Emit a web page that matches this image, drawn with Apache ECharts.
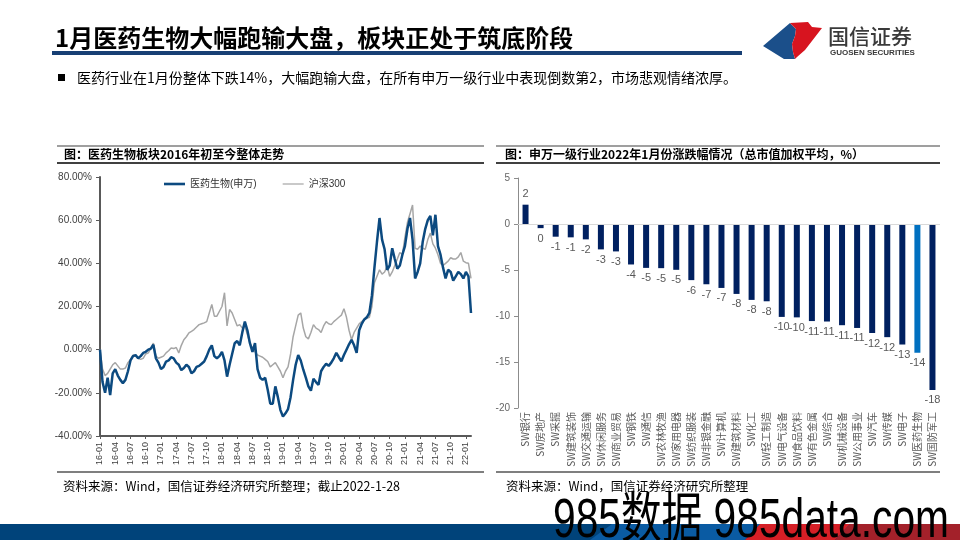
<!DOCTYPE html>
<html><head><meta charset="utf-8">
<script src="https://cdn.jsdelivr.net/npm/echarts/dist/echarts.min.js"></script>
<style>html,body{margin:0;padding:0;background:#fff}#c{width:960px;height:540px}</style>
</head><body><div id="c"></div>
<script>
const FONT = '"Liberation Sans", Arial, "Noto Sans CJK SC", sans-serif';
const CJK = '"Noto Sans CJK SC", "Liberation Sans", sans-serif';

// ---------- left chart: cumulative return since 2016-01 (%), half-month points ----------
const pharmaName = '医药生物(申万)';
const hs300Name = '沪深300';
const pharma = [
 0, -15, -20, -13, -21, -11, -9, -12, -14, -15.5,
 -14, -10, -5, -3, -2.5, -4, -3, -1.5, -1, 0,
 0.5, 2.3, -4, -6, -9, -8, -5.5, -5, -3.5, -4,
 -6, -7, -9.5, -8.5, -7, -8, -11, -10, -8, -7.5,
 -6.5, -5.5, -3, 0, 2, -3, -4, -3, -1, -5,
 -12.5, -7, -2, 3, 4, 2, 8, 13, 9, 3,
 -1, 3, -9, -13, -14, -13, -18.6, -25, -25, -17,
 -22, -28, -31, -29.5, -27.5, -22, -14, -7, -2.5, -5,
 -9.3, -13, -17, -19, -13.5, -15, -16.3, -10, -8, -6.5,
 -7.5, -6, -4, -1.5, -3.5, -5.4, -2.5, 0, 2.5, 4.6,
 2, -1.5, 9, 12, 14, 15, 17, 25, 38, 50,
 61, 51, 46.5, 37, 39, 47, 42, 37.5, 39, 44,
 48, 56, 61, 51, 33, 36, 40, 50, 56, 60,
 62, 53, 62.5, 48, 44, 38, 33, 37, 36, 32,
 34, 36, 35, 33, 36, 34, 17
];
const hs300 = [
 0, -9, -12, -11, -9, -7, -6, -7.5, -9, -9,
 -8.5, -6, -4.5, -2.5, -3, -4, -4.5, -4, -2, -1.5,
 0.5, 3, -3, -4, -3.5, -3, -1.5, -0.5, 0.8, 0.5,
 1, -1.5, 2, 4.6, 6, 7.8, 8.5, 9.3, 10.5, 11.6,
 12, 12.4, 13, 17, 21, 15.5, 15.5, 17.8, 20, 26.4,
 11, 18.6, 17, 14, 11, 11.6, 10, 11, 7, 3,
 1, -1, -2.5, -3, -3.5, -4.5, -5.5, -8, -7, -6,
 -8, -10, -13, -10, -8, -2, 6, 11, 16, 17,
 10, 6, 5, 8, 11.6, 10, 9.3, 8, 11, 13,
 12, 11.6, 13, 14, 15, 16, 19, 15, 9, 4.6,
 8, 10, 12, 13, 14, 14.5, 15, 20, 31, 34,
 37, 35, 36, 38.8, 34, 36, 39, 42, 45, 44,
 52, 59, 63, 67, 47, 46.5, 48, 47, 46.5, 51,
 54, 49, 47, 44, 40, 39, 40, 41, 42.6, 42,
 42, 43, 45, 41, 40.3, 40, 33
];
// date categories (two per month, 2016-01 .. 2022-01-28)
const dateCats = [];
for (let y = 16; y <= 22; y++) {
  for (let m = 1; m <= 12; m++) {
    if (y === 22 && m > 1) break;
    const mm = (m < 10 ? '0' : '') + m;
    dateCats.push(y + '-' + mm);
    dateCats.push(y + '-' + mm + '-16');
  }
}
dateCats.push('22-01-28');

// ---------- right chart: SW level-1 industries, Jan 2022 change (%) ----------
const industries = ['SW银行','SW房地产','SW采掘','SW建筑装饰','SW交通运输','SW休闲服务','SW商业贸易','SW钢铁','SW通信','SW农林牧渔','SW家用电器','SW纺织服装','SW非银金融','SW计算机','SW建筑材料','SW化工','SW轻工制造','SW电气设备','SW食品饮料','SW有色金属','SW综合','SW机械设备','SW公用事业','SW汽车','SW传媒','SW电子','SW医药生物','SW国防军工'];
const changes = [2.1, -0.45, -1.38, -1.45, -1.67, -2.76, -2.98, -4.4, -4.77, -4.8, -4.98, -6.1, -6.55, -6.95, -7.6, -8.25, -8.4, -10.1, -10.15, -10.55, -10.6, -11.0, -11.3, -11.85, -12.3, -13.1, -14.0, -18.04];
const highlight = 'SW医药生物';

// ---------- slide texts ----------
const slideTitle = '1月医药生物大幅跑输大盘，板块正处于筑底阶段';
const bulletText = '医药行业在1月份整体下跌14%，大幅跑输大盘，在所有申万一级行业中表现倒数第2，市场悲观情绪浓厚。';
const leftTitle = '图：医药生物板块2016年初至今整体走势';
const rightTitle = '图：申万一级行业2022年1月份涨跌幅情况（总市值加权平均，%）';
const leftSource = '资料来源：Wind，国信证券经济研究所整理；截止2022-1-28';
const rightSource = '资料来源：Wind，国信证券经济研究所整理';
const watermark = '985数据 985data.com';

function txt(x, y, text, font, fill, align, z) {
  return {type:'text', x:x, y:y, z:z||10, silent:true,
    style:{text:text, font:font, fill:fill||'#000', align:align||'left', verticalAlign:'middle',
      textAlign:align||'left', textVerticalAlign:'middle'}};
}
function hline(x1, x2, y, color, w) {
  return {type:'line', silent:true, shape:{x1:x1, y1:y, x2:x2, y2:y}, style:{stroke:color, lineWidth:w}};
}

const graphic = [
  txt(55, 38, slideTitle, 'bold 24px ' + CJK, '#000'),
  {type:'rect', silent:true, shape:{x:52, y:51, width:690, height:4}, style:{fill:'#173F74'}},
  {type:'polygon', silent:true, shape:{points:[[763,46],[790,23],[796,29],[795,36],[792,44],[793,52],[795,59],[784,59]]}, style:{fill:'#1B4F8A'}},
  {type:'polygon', silent:true, shape:{points:[[790,23],[808,22],[812,27],[822,28],[805,50],[797,57],[795,59],[793,52],[792,44],[795,36],[796,29]]}, style:{fill:'#D7141F'}},
  txt(828, 36, '国信证券', '500 21px ' + CJK, '#3A3A3A'),
  txt(830, 53, 'GUOSEN SECURITIES', 'bold 8px ' + FONT, '#3A3A3A'),
  {type:'rect', silent:true, shape:{x:58, y:74, width:7, height:7}, style:{fill:'#000'}},
  txt(77, 78, bulletText, '14px ' + CJK, '#000'),
  hline(57, 484, 146, '#7F7F7F', 1.5),
  hline(57, 484, 163, '#404040', 2),
  hline(496, 940, 146, '#7F7F7F', 1.5),
  hline(496, 940, 163, '#404040', 2),
  txt(64, 154, leftTitle, 'bold 12px ' + CJK, '#000'),
  txt(505, 154, rightTitle, 'bold 12px ' + CJK, '#000'),
  hline(57, 484, 472, '#7F7F7F', 2),
  hline(496, 940, 472, '#7F7F7F', 2),
  txt(63, 486, leftSource, '12.5px ' + CJK, '#000'),
  txt(506, 486, rightSource, '12.5px ' + CJK, '#000'),
  {type:'rect', silent:true, shape:{x:0, y:524, width:960, height:16}, style:{fill:'#00437A'}},
  {type:'polygon', silent:true, shape:{points:[[590,540],[612,524],[760,524],[745,540]]}, style:{fill:'#0A5BA3'}},
  {type:'polygon', silent:true, shape:{points:[[745,540],[760,524],[850,524],[835,540]]}, style:{fill:'#D51F26'}},
  {type:'polygon', silent:true, shape:{points:[[835,540],[850,524],[960,524],[960,540]]}, style:{fill:'#A3212A'}},
  {type:'text', x:553, y:522, z:100, silent:true, scaleX:0.74,
   style:{text:watermark, font:'55px ' + FONT, fill:'#000', align:'left', verticalAlign:'middle',
     textAlign:'left', textVerticalAlign:'middle'}}
];

const chart = echarts.init(document.getElementById('c'));
chart.setOption({
  animation: false,
  backgroundColor: '#fff',
  textStyle: {fontFamily: FONT},
  graphic: graphic,
  legend: {
    left: 164, top: 179, padding: 0, itemWidth: 21, itemHeight: 10, itemGap: 26,
    symbolKeepAspect: true,
    data: [
      {name: pharmaName, icon: 'path://M0,0L21,0L21,2.6L0,2.6Z'},
      {name: hs300Name, icon: 'path://M0,0L21,0L21,1.2L0,1.2Z'}
    ],
    textStyle: {fontSize: 10, color: '#333', fontFamily: FONT}
  },
  grid: [
    {left: 100, top: 177, width: 371, height: 259},
    {left: 518, top: 178, width: 422, height: 230}
  ],
  xAxis: [
    {type:'category', gridIndex:0, data:dateCats, boundaryGap:false,
     axisLine:{onZero:false, lineStyle:{color:'#595959', width:2}},
     axisTick:{show:true, length:3, interval:(i)=> i % 6 === 0, lineStyle:{color:'#595959'}},
     axisLabel:{interval:(i)=> i % 6 === 0, rotate:90, fontSize:9, color:'#404040', margin:6,
       formatter:(v)=> v.slice(0,5)},
     splitLine:{show:false}},
    {type:'category', gridIndex:1, data:industries,
     axisLine:{show:false, onZero:false}, axisTick:{show:false},
     axisLabel:{interval:0, rotate:90, fontSize:10, color:'#595959', margin:4, fontFamily: CJK}}
  ],
  yAxis: [
    {type:'value', gridIndex:0, min:-40, max:80, interval:20,
     axisLine:{show:true, lineStyle:{color:'#595959', width:2}},
     axisTick:{show:true, length:4, lineStyle:{color:'#595959'}},
     splitLine:{show:false},
     axisLabel:{fontSize:10, color:'#404040', margin:8, formatter:(v)=> v.toFixed(2) + '%'}},
    {type:'value', gridIndex:1, min:-20, max:5, interval:5,
     axisLine:{show:true, lineStyle:{color:'#8C8C8C', width:1}},
     axisTick:{show:true, length:4, lineStyle:{color:'#8C8C8C'}},
     splitLine:{show:false},
     axisLabel:{fontSize:10, color:'#666', margin:8}}
  ],
  series: [
    {name: pharmaName, type:'line', xAxisIndex:0, yAxisIndex:0, data: pharma,
     showSymbol:false, symbol:'none', z:3, color:'#0C4A80',
     lineStyle:{color:'#0C4A80', width:2.5}},
    {name: hs300Name, type:'line', xAxisIndex:0, yAxisIndex:0, data: hs300,
     showSymbol:false, symbol:'none', z:2, color:'#A6A6A6',
     lineStyle:{color:'#A6A6A6', width:1.5}},
    {type:'bar', xAxisIndex:1, yAxisIndex:1, barWidth:6,
     data: changes.map((v, i) => ({
       value: v,
       itemStyle: {color: industries[i] === highlight ? '#0070C0' : '#002060'},
       label: {position: v >= 0 ? 'top' : 'bottom'}
     })),
     label:{show:true, fontSize:11, color:'#595959', distance:5,
       formatter:(p)=> String(Math.round(p.value))},
     markLine:{silent:true, symbol:['none','none'], label:{show:false},
       lineStyle:{color:'#D9D9D9', type:'solid', width:1},
       data:[{yAxis:0}]}}
  ]
});
</script>
</body></html>
